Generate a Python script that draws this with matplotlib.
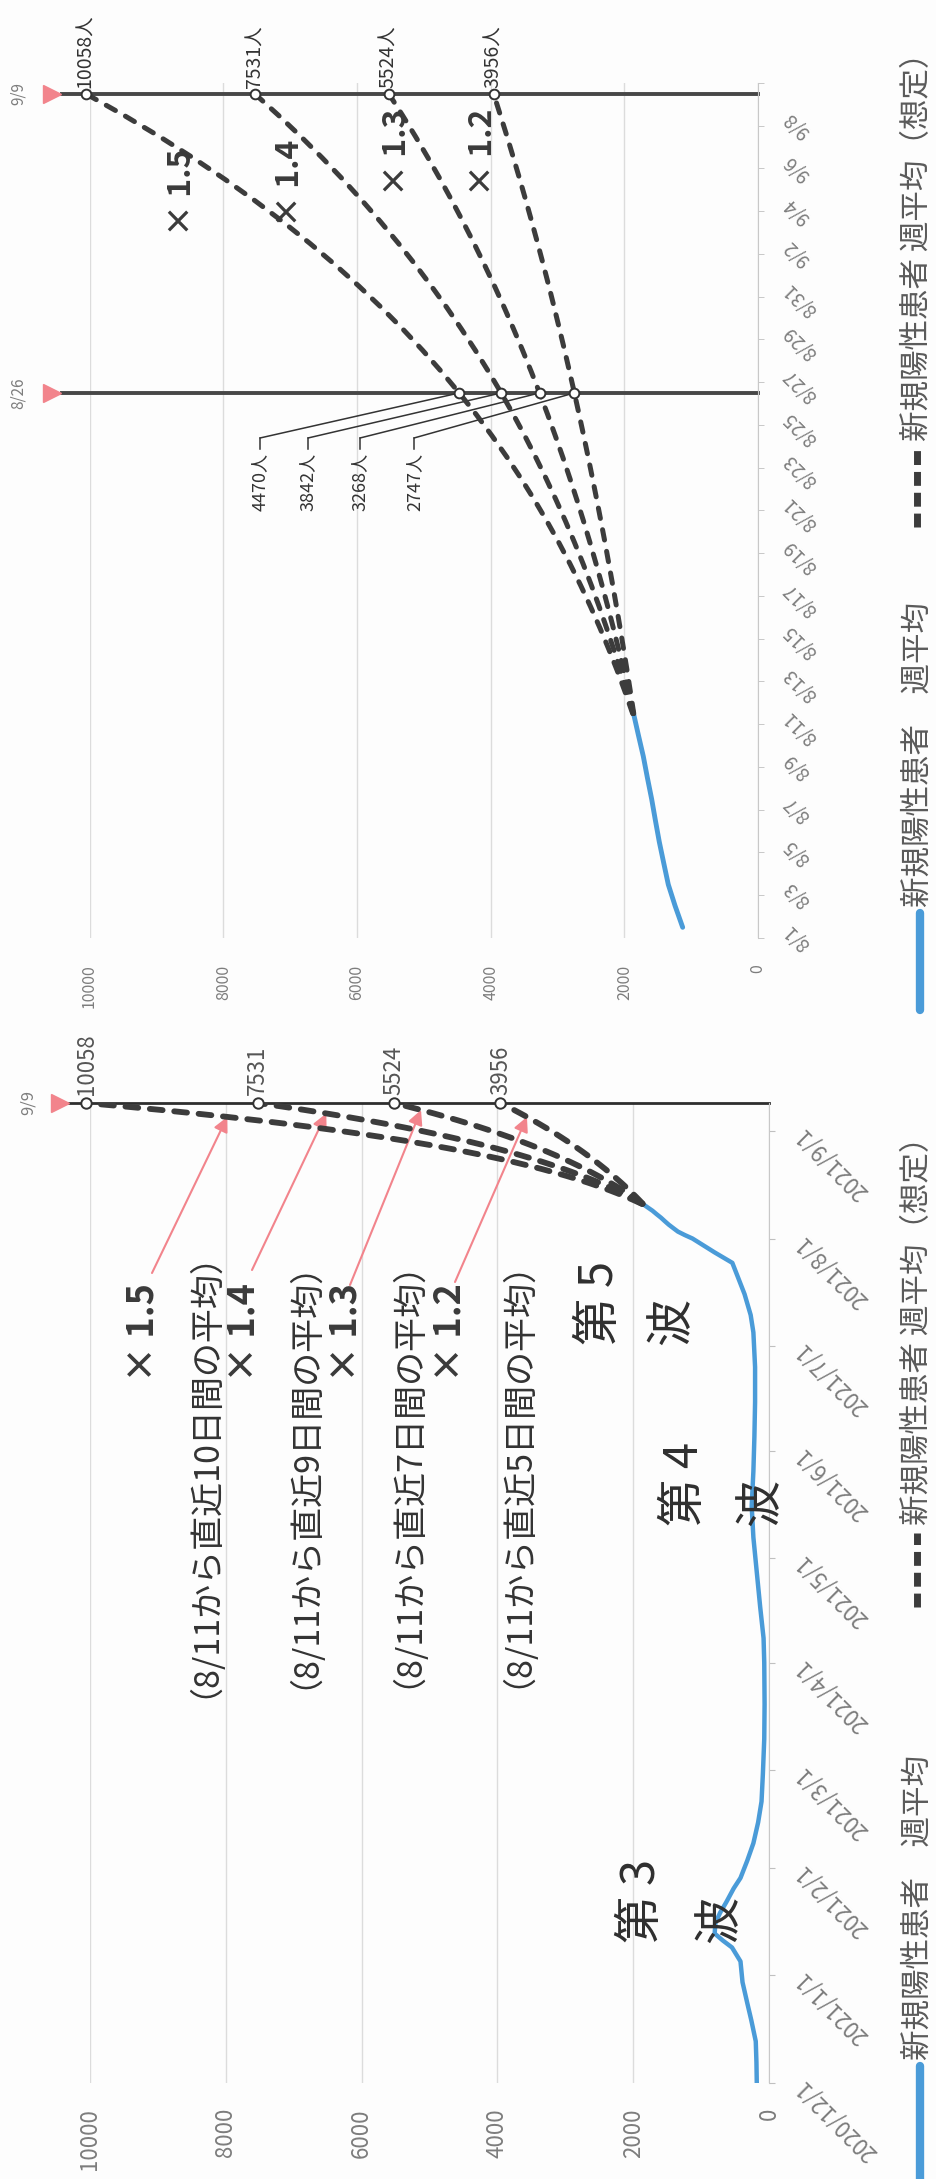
import numpy as np
import pandas as pd
import matplotlib
matplotlib.use("Agg")
import matplotlib.pyplot as plt
import matplotlib.dates as mdates
from matplotlib.lines import Line2D

plt.rcParams['font.family'] = ['Noto Sans CJK JP', 'DejaVu Sans']

W, H = 937, 2179
BLUE = '#4a9bd8'
DASH = '#3c3c3c'
PINK = '#f2848c'
GRID = '#dcdcdc'
TICK = '#7d7d7d'
INK = '#333333'

# 新規陽性患者 週平均 8/1 - 8/11
aug_avg = [1127, 1240, 1342, 1410, 1477, 1535, 1591, 1655, 1716, 1790, 1862]

# 週平均 2020/12/1 - 2021/7/28
long_dates = ['2020-12-01', '2020-12-07', '2020-12-13', '2020-12-19', '2020-12-24',
              '2020-12-30', '2021-01-05', '2021-01-09', '2021-01-11', '2021-01-13',
              '2021-01-16', '2021-01-19', '2021-01-22', '2021-01-26', '2021-01-29',
              '2021-02-03', '2021-02-08', '2021-02-14', '2021-02-20', '2021-02-28',
              '2021-03-10', '2021-03-20', '2021-04-01', '2021-04-08', '2021-04-17',
              '2021-04-27', '2021-05-07', '2021-05-16', '2021-05-26', '2021-06-05',
              '2021-06-15', '2021-06-25', '2021-07-05', '2021-07-10', '2021-07-16',
              '2021-07-20', '2021-07-25', '2021-07-28']
long_avg = [180, 185, 195, 260, 320, 390, 420, 545, 680, 800,
            790, 720, 630, 520, 420, 320, 230, 160, 110, 90,
            70, 65, 70, 80, 130, 180, 230, 255, 230, 215,
            205, 205, 230, 270, 360, 440, 540, 800]

# 週平均(想定) 8/11 - 9/9
rates = ['1.5', '1.4', '1.3', '1.2']
spans = ['10', '9', '7', '5']
proj_15 = [1875, 1987, 2105, 2231, 2364, 2505, 2654, 2812, 2980, 3158,
           3346, 3546, 3757, 3981, 4218, 4470, 4737, 5019, 5318, 5636,
           5972, 6328, 6705, 7105, 7529, 7978, 8453, 8957, 9492, 10058]
proj_14 = [1869, 1961, 2057, 2158, 2265, 2376, 2493, 2616, 2745, 2880,
           3022, 3171, 3327, 3490, 3662, 3842, 4032, 4230, 4439, 4657,
           4887, 5127, 5380, 5645, 5923, 6214, 6520, 6841, 7178, 7531]
proj_13 = [1863, 1934, 2008, 2085, 2164, 2247, 2333, 2422, 2514, 2610,
           2710, 2814, 2921, 3033, 3148, 3268, 3393, 3523, 3658, 3797,
           3942, 4093, 4249, 4412, 4580, 4755, 4937, 5125, 5321, 5524]
proj_12 = [1859, 1908, 1958, 2010, 2063, 2117, 2173, 2231, 2289, 2350,
           2412, 2476, 2541, 2608, 2677, 2747, 2820, 2894, 2971, 3049,
           3129, 3212, 3297, 3384, 3473, 3565, 3659, 3755, 3855, 3956]
projections = [proj_15, proj_14, proj_13, proj_12]
arrow_days = ['2021-09-05', '2021-09-06', '2021-09-07', '2021-09-05']

value_ticks = [0, 2000, 4000, 6000, 8000, 10000]
month_ticks = ['2020/12/1', '2021/1/1', '2021/2/1', '2021/3/1', '2021/4/1',
               '2021/5/1', '2021/6/1', '2021/7/1', '2021/8/1', '2021/9/1']

legend_solid = '新規陽性患者　週平均'
legend_dash = '新規陽性患者 週平均（想定）'


def fpos(x, y):
    return x / W, 1 - y / H


def axes_box(x0, y0, x1, y1):
    return [x0 / W, 1 - y1 / H, (x1 - x0) / W, (y1 - y0) / H]


def rtext(x, y, s, **kw):
    kw.setdefault('rotation', 90)
    kw.setdefault('rotation_mode', 'anchor')
    kw.setdefault('va', 'center')
    return fig.text(*fpos(x, y), s, **kw)


fig = plt.figure(figsize=(W / 100, H / 100), dpi=100, facecolor='#fdfdfd')

# ---------------- 8/1 - 9/9 拡大 ----------------
cats = pd.date_range('2021-08-01', '2021-09-09')
cat_labels = [f'{d.month}/{d.day}' for d in cats]
idx = {lab: i for i, lab in enumerate(cat_labels)}

ax1 = fig.add_axes(axes_box(89.6, 83, 758, 938))
ax1.set_facecolor('none')
ax1.set_xlim(10000, 0)
ax1.set_ylim(-0.5, len(cats) - 0.5)

ax1.plot(aug_avg, np.arange(len(aug_avg)), color=BLUE, lw=3.5,
         solid_capstyle='round', zorder=3)
proj_y = np.arange(idx['8/11'], idx['9/9'] + 1)
for p in projections:
    ax1.plot(p, proj_y, color=DASH, lw=3.6, linestyle=(0, (2.1, 2.3)),
             dash_capstyle='round', zorder=4)

ytf = ax1.get_yaxis_transform()
for lab in ['9/9', '8/26']:
    y = idx[lab]
    ax1.plot([-0.041, 1], [y, y], transform=ytf, color='#474747', lw=2.8,
             clip_on=False, zorder=2)
    ax1.plot([-0.056], [y], marker='>', ms=13, color=PINK, transform=ytf,
             clip_on=False, zorder=5)
    ax1.text(-0.107, y, lab, transform=ytf, rotation=90, ha='center',
             va='center', fontsize=11, color=TICK)

end_vals = [p[-1] for p in projections]
mid_vals = [p[idx['8/26'] - idx['8/11']] for p in projections]
ax1.plot(end_vals, [idx['9/9']] * 4, 'o', ms=7, mfc='white', mec=INK, mew=1.4,
         zorder=6, clip_on=False)
ax1.plot(mid_vals, [idx['8/26']] * 4, 'o', ms=7, mfc='white', mec=INK, mew=1.4,
         zorder=6, clip_on=False)
for v in end_vals:
    ax1.annotate(f'{v}人', (v, idx['9/9']), xytext=(0, 4), textcoords='offset points',
                 rotation=90, rotation_mode='anchor', ha='left', va='center',
                 fontsize=14, color=INK, annotation_clip=False)

# 8/26 の値の引き出し線
label_x = [260, 308, 360, 414]
for v, lx in zip(mid_vals, label_x):
    ax1.annotate('', (v, idx['8/26']), xytext=fpos(lx, 438), textcoords='figure fraction',
                 arrowprops=dict(arrowstyle='-', color=INK, lw=1.1, shrinkA=0, shrinkB=4))
    fig.add_artist(Line2D([lx / W, lx / W], [1 - 438 / H, 1 - 449 / H], color=INK, lw=1.1))
    rtext(lx, 453, f'{v}人', ha='right', fontsize=13, color=INK)

for r, (x, y) in zip(rates, [(182, 192), (290, 183), (397, 152), (483, 152)]):
    fig.text(*fpos(x, y), f'× {r}', rotation=90, ha='center', va='center',
             fontsize=23, fontweight='bold', color='#3a3a3a')

ax1.set_xticks(value_ticks)
ax1.set_xticklabels([str(v) for v in value_ticks], rotation=90, fontsize=11.5, color=TICK)
ax1.tick_params(axis='x', length=0, pad=19)
ax1.grid(axis='x', color=GRID, lw=1)
ax1.yaxis.tick_right()
ax1.set_yticks(np.arange(0, len(cats), 2))
ax1.set_yticklabels(cat_labels[::2], rotation=135, rotation_mode='anchor',
                    ha='right', va='center', fontsize=13.5, color=TICK)
ax1.set_yticks(np.arange(-0.5, len(cats), 2), minor=True)
ax1.tick_params(axis='y', which='major', length=0, pad=21)
ax1.tick_params(axis='y', which='minor', length=4, color='#c0c0c0')
for s in ['top', 'left', 'bottom']:
    ax1.spines[s].set_visible(False)
ax1.spines['right'].set_color('#c8c8c8')

# ---------------- 2020/12/1 - 2021/9/9 ----------------
ax2 = fig.add_axes(axes_box(90, 1103, 769, 2083))
ax2.set_facecolor('none')
ax2.set_xlim(10000, 0)
d0 = mdates.date2num(pd.Timestamp('2020-12-01'))
d1 = mdates.date2num(pd.Timestamp('2021-09-09'))
ax2.set_ylim(d0, d1)

series_dates = mdates.date2num(pd.to_datetime(long_dates + [str(d.date()) for d in cats[:len(aug_avg)]]))
ax2.plot(long_avg + aug_avg, series_dates, color=BLUE, lw=3.2,
         solid_joinstyle='round', solid_capstyle='round', zorder=3)
proj_dates = mdates.date2num(pd.date_range('2021-08-11', '2021-09-09'))
for p in projections:
    ax2.plot(p, proj_dates, color=DASH, lw=4.2, linestyle=(0, (2.2, 2.0)),
             dash_capstyle='round', zorder=4)

ytf2 = ax2.get_yaxis_transform()
ax2.plot([-0.0324, 1], [d1, d1], transform=ytf2, color='#2e2e2e', lw=2,
         clip_on=False, zorder=2)
ax2.plot([-0.0442], [d1], marker='>', ms=13, color=PINK, transform=ytf2,
         clip_on=False, zorder=5)
ax2.text(-0.0913, d1, '9/9', transform=ytf2, rotation=90, ha='center',
         va='center', fontsize=12, color=TICK)
ax2.plot(end_vals, [d1] * 4, 'o', ms=7.5, mfc='white', mec=INK, mew=1.4,
         zorder=6, clip_on=False)
for v in end_vals:
    ax2.annotate(str(v), (v, d1), xytext=(0, 6), textcoords='offset points',
                 rotation=90, rotation_mode='anchor', ha='left', va='center',
                 fontsize=16, color='#555555', annotation_clip=False)

# ×倍率 と 矢印
tails = [(152, 1273), (252, 1270), (350, 1285), (455, 1282)]
rate_x = [143, 244, 346, 450]
span_x = [187, 287, 390, 500]
for p, r, n, day, tail, rx, sx in zip(projections, rates, spans, arrow_days,
                                        tails, rate_x, span_x):
    k = int((pd.Timestamp(day) - pd.Timestamp('2021-08-11')).days)
    ax2.annotate('', (p[k], mdates.date2num(pd.Timestamp(day))), xytext=fpos(*tail),
                 textcoords='figure fraction',
                 arrowprops=dict(arrowstyle='-|>', color=PINK, lw=1.5,
                                 mutation_scale=22, shrinkA=0, shrinkB=0))
    rtext(rx, 1382, f'× {r}', ha='left', fontsize=26, fontweight='bold', color='#3a3a3a')
    fig.text(*fpos(sx, 1457), f'（8/11から直近{n}日間の平均）', rotation=90,
             ha='center', va='center', fontsize=24.5, color=INK)

# 第3波 - 第5波
for num, (x1, x2, y0) in zip(['3', '4', '5'], [(642, 720, 1943), (685, 761, 1526), (600, 672, 1345)]):
    rtext(x1, y0, f'第 {num}', ha='left', fontsize=34, color='#2f2f2f')
    rtext(x2, y0, '波', ha='left', fontsize=34, color='#2f2f2f')

ax2.set_xticks(value_ticks)
ax2.set_xticklabels([str(v) for v in value_ticks], rotation=90, fontsize=16, color=TICK)
ax2.tick_params(axis='x', length=0, pad=18)
ax2.grid(axis='x', color=GRID, lw=1)
ax2.yaxis.tick_right()
ax2.set_yticks(mdates.date2num(pd.to_datetime(month_ticks, format='%Y/%m/%d')))
ax2.set_yticklabels(month_ticks, rotation=135, rotation_mode='anchor',
                    ha='right', va='center', fontsize=16, color=TICK)
ax2.tick_params(axis='y', length=4, color='#c0c0c0', pad=18)
for s in ['top', 'left', 'bottom']:
    ax2.spines[s].set_visible(False)
ax2.spines['right'].set_color('#c8c8c8')

# ---------------- 凡例 ----------------
def legend_dash_mark(y_start, y_end):
    fig.add_artist(Line2D([917 / W] * 2, [1 - y_start / H, 1 - y_end / H], color=DASH,
                          lw=5, linestyle=(0, (2.0, 1.0)), dash_capstyle='butt'))


def legend_solid_mark(y_start, y_end):
    fig.add_artist(Line2D([920 / W] * 2, [1 - y_start / H, 1 - y_end / H], color=BLUE,
                          lw=6, solid_capstyle='round'))


legend_dash_mark(527, 450)
rtext(918, 441, legend_dash, ha='left', fontsize=22, color='#5a5a5a')
legend_solid_mark(1010, 913)
rtext(918, 907, legend_solid, ha='left', fontsize=22, color='#5a5a5a')

legend_dash_mark(1607, 1533)
rtext(918, 1525, legend_dash, ha='left', fontsize=22, color='#5a5a5a')
legend_solid_mark(2200, 2066)
rtext(918, 2060, legend_solid, ha='left', fontsize=22, color='#5a5a5a')

fig.savefig('out.png', dpi=100, facecolor=fig.get_facecolor())
